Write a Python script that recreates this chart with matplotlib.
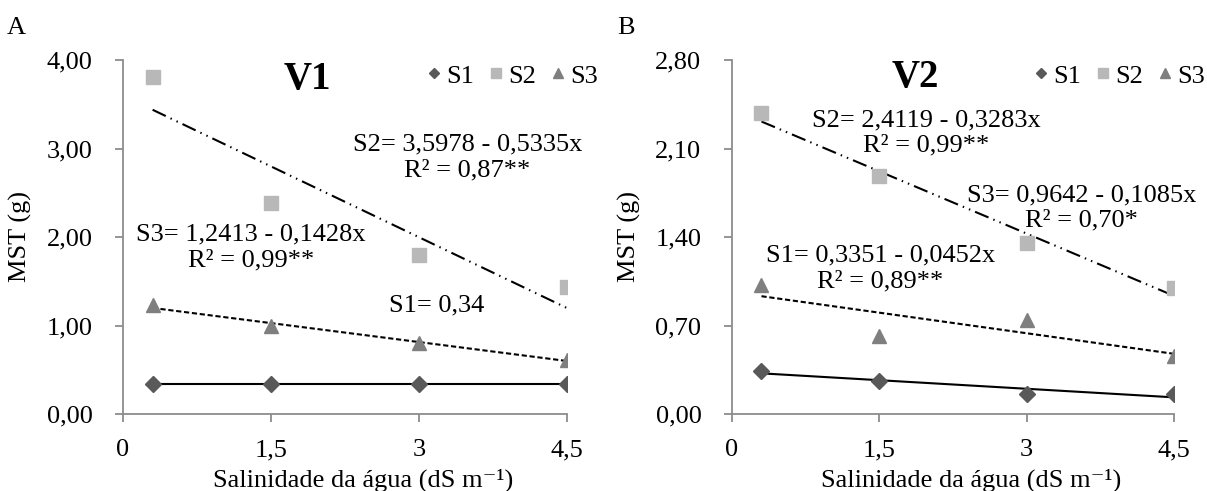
import matplotlib.pyplot as plt

plt.rcParams['font.family'] = ['Liberation Serif', 'DejaVu Serif']

# salinity levels (dS m-1)
x = [0.3, 1.5, 3.0, 4.5]

# panel A (V1)
v1_s1 = [0.34, 0.34, 0.34, 0.34]
v1_s2 = [3.81, 2.38, 1.80, 1.44]
v1_s3 = [1.23, 0.99, 0.80, 0.61]
# panel B (V2)
v2_s1 = [0.34, 0.26, 0.16, 0.16]
v2_s2 = [2.38, 1.88, 1.35, 1.00]
v2_s3 = [1.02, 0.62, 0.74, 0.46]

# fitted coefficients (a, b) for y = a - b*x
v1_fit = {'S1': (0.34, 0.0), 'S2': (3.5978, 0.5335), 'S3': (1.2413, 0.1428)}
v2_fit = {'S1': (0.3351, 0.0452), 'S2': (2.4119, 0.3283), 'S3': (0.9642, 0.1085)}

xticks = [0, 1.5, 3, 4.5]
xticklabels = ['0', '1,5', '3', '4,5']
v1_yticks = [0, 1, 2, 3, 4]
v1_yticklabels = ['0,00', '1,00', '2,00', '3,00', '4,00']
v2_yticks = [0, 0.7, 1.4, 2.1, 2.8]
v2_yticklabels = ['0,00', '0,70', '1,40', '2,10', '2,80']

fig = plt.figure(figsize=(12.07, 4.91), dpi=100)
axA = fig.add_axes([123 / 1207, 1 - 414 / 491, 444 / 1207, 354 / 491])
axB = fig.add_axes([732 / 1207, 1 - 414 / 491, 442 / 1207, 354 / 491])

c1, c2, c3 = '#595959', '#B8B8B8', '#7F7F7F'
styles = {'S1': '-', 'S2': (0, (7, 2.5, 0.7, 2.5, 0.7, 2.5)), 'S3': (0, (2.5, 1.3))}
fs = 19


def draw(ax, s1, s2, s3, fit, yticks, yticklabels, title, ty):
    ax.plot(x, s1, 'D', color=c1, ms=8, label='S1', zorder=3)
    ax.plot(x, s2, 's', color=c2, ms=9.5, label='S2', zorder=3)
    ax.plot(x, s3, '^', color=c3, ms=10, label='S3', zorder=3)
    xs = [x[0], x[-1]]
    for k in ['S1', 'S2', 'S3']:
        a, b = fit[k]
        ax.plot(xs, [a - b * v for v in xs], color='black', lw=1.5,
                linestyle=styles[k], zorder=2)
    ax.set_xlim(0, 4.5)
    ax.set_ylim(yticks[0], yticks[-1])
    ax.set_xticks(xticks)
    ax.set_xticklabels(xticklabels)
    ax.set_yticks(yticks)
    ax.set_yticklabels(yticklabels)
    for s in ['top', 'right']:
        ax.spines[s].set_visible(False)
    for s in ['left', 'bottom']:
        ax.spines[s].set_color('#8C8C8C')
        ax.spines[s].set_linewidth(1.3)
    ax.tick_params(colors='#8C8C8C', labelcolor='black', labelsize=fs,
                   length=6, width=1.3)
    ax.tick_params(axis='y', pad=16)
    ax.tick_params(axis='x', pad=12)
    ax.set_xlabel('Salinidade da água (dS m\u207b\u00b9)', fontsize=fs)
    ax.xaxis.set_label_coords(0.54, -0.155)
    ax.set_ylabel('MST (g)', fontsize=fs)
    ax.yaxis.set_label_coords(-0.205, 0.5)
    ax.text(0.415, ty, title, transform=ax.transAxes, fontsize=28,
            fontweight='bold', ha='center', va='center')
    ax.legend(loc='center right', ncol=3, frameon=False, fontsize=fs,
              handlelength=0.5, handletextpad=0.2, columnspacing=0.6,
              borderpad=0, borderaxespad=0,
              bbox_to_anchor=(1.07, 0.955), markerscale=0.7)


draw(axA, v1_s1, v1_s2, v1_s3, v1_fit, v1_yticks, v1_yticklabels, 'V1', 0.945)
draw(axB, v2_s1, v2_s2, v2_s3, v2_fit, v2_yticks, v2_yticklabels, 'V2', 0.95)

axA.text(3.49, 2.90, 'S2= 3,5978 - 0,5335x\nR² = 0,87**', fontsize=fs,
         ha='center', va='center', linespacing=1.2)
axA.text(1.30, 1.88, 'S3= 1,2413 - 0,1428x\nR² = 0,99**', fontsize=fs,
         ha='center', va='center', linespacing=1.2)
axA.text(3.18, 1.23, 'S1= 0,34', fontsize=fs, ha='center', va='center')

axB.text(1.98, 2.225, 'S2= 2,4119 - 0,3283x\nR² = 0,99**', fontsize=fs,
         ha='center', va='center', linespacing=1.2)
axB.text(3.56, 1.63, 'S3= 0,9642 - 0,1085x\nR² = 0,70*', fontsize=fs,
         ha='center', va='center', linespacing=1.2)
axB.text(1.51, 1.15, 'S1= 0,3351 - 0,0452x\nR² = 0,89**', fontsize=fs,
         ha='center', va='center', linespacing=1.2)

fig.text(16 / 1207, 1 - 28 / 491, 'A', fontsize=19, ha='center', va='center')
fig.text(626 / 1207, 1 - 28 / 491, 'B', fontsize=19, ha='center', va='center')

fig.savefig('out.png', dpi=100)
